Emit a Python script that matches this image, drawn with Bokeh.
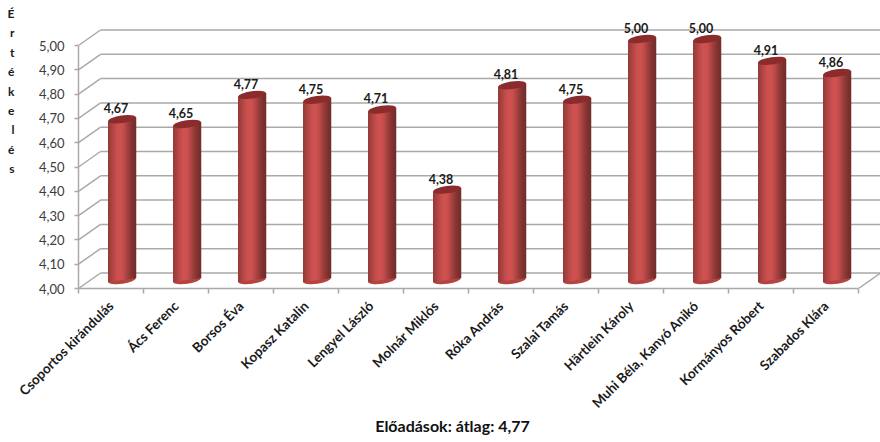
from math import pi, exp
from bokeh.plotting import figure
from bokeh.models import LinearAxis, FixedTicker, Range1d
from bokeh.core.properties import value
from bokeh.embed import file_html
from bokeh.resources import INLINE

names = ["Csoportos kirándulás", "Ács Ferenc", "Borsos Éva", "Kopasz Katalin", "Lengyel László",
         "Molnár Miklós", "Róka András", "Szalai Tamás", "Härtlein Károly", "Muhi Béla, Kanyó Anikó",
         "Kormányos Róbert", "Szabados Klára"]
scores = [4.67, 4.65, 4.77, 4.75, 4.71, 4.38, 4.81, 4.75, 5.00, 5.00, 4.91, 4.86]
y_ticks = [4.0, 4.1, 4.2, 4.3, 4.4, 4.5, 4.6, 4.7, 4.8, 4.9, 5.0]
axis_title = "Értékelés"
bottom_title = "Előadások: átlag: 4,77"

W, H = 880, 442
LEFT, BOTTOM = 78, 154
CAT_PX, VAL_PX = 65.0, 243.0
px_x, px_y = 1 / CAT_PX, 1 / VAL_PX
FONT = "Lato"
GRID = "#a9a9a9"

p = figure(width=W, height=H, output_backend="svg", toolbar_location=None,
           x_range=Range1d(0, (W - LEFT) / CAT_PX),
           y_range=Range1d(4.0, 4.0 + (H - BOTTOM) / VAL_PX),
           x_axis_location=None, y_axis_location=None,
           min_border_left=LEFT, min_border_bottom=BOTTOM, min_border_right=0, min_border_top=0)
p.outline_line_color = None
p.grid.visible = False
p.background_fill_color = "white"

# 3-D box: back wall and left wall
dx, dy = 22 * px_x, 15.5 * px_y
n = len(names)
p.segment([dx] * len(y_ticks), [t + dy for t in y_ticks], [n + 1] * len(y_ticks), [t + dy for t in y_ticks],
          line_color=GRID, line_width=1.5)
p.segment([0] * len(y_ticks), y_ticks, [dx] * len(y_ticks), [t + dy for t in y_ticks],
          line_color=GRID, line_width=1.5)
p.segment([n], [4.0], [n + dx], [4.0 + dy], line_color=GRID, line_width=1.5)

# cylinders
bar_px = 28
slope = 4.0 / 28
for i, v in enumerate(scores):
    cx = i + 0.5 + 11 * px_x
    top = v + 6.5 * px_y
    base = 4.0 + 8.5 * px_y
    tops = []
    lefts, rights, bottoms, cols = [], [], [], []
    for k in range(bar_px):
        u = (k + 0.5) / bar_px
        lit = exp(-((u - 0.42) / 0.36) ** 2)
        dark = 0.62 + 0.38 * lit if u < 0.42 else 0.52 + 0.48 * lit
        cols.append("#%02x%02x%02x" % (int(207 * dark), int(82 * dark), int(80 * dark)))
        off = k - bar_px / 2 + 0.5
        lefts.append(cx + (k - bar_px / 2) * px_x)
        rights.append(cx + (k + 1.25 - bar_px / 2) * px_x)
        tops.append(top + off * slope * px_y)
        bottoms.append(base + off * slope * px_y)
    p.ellipse([cx], [base], width=bar_px, height=7.5, angle=8 * pi / 180,
              width_units="screen", height_units="screen",
              fill_color="#b34442", line_color=None)
    p.quad(left=lefts, right=rights, top=tops, bottom=bottoms, fill_color=cols, line_color=None)
    p.ellipse([cx], [top], width=bar_px, height=7.5, angle=8 * pi / 180,
              width_units="screen", height_units="screen",
              fill_color="#8c2b2b", line_color=None)

# data labels
p.text([i + 0.5 + 5 * px_x for i in range(n)], [v + 6.5 * px_y for v in scores],
       text=[f"{v:.2f}".replace(".", ",") for v in scores],
       text_font=value(FONT), text_font_style="bold", text_font_size="12.5px", text_color="#1a1a1a",
       text_align="center", text_baseline="alphabetic", y_offset=-11)

# axes
yax = LinearAxis(ticker=FixedTicker(ticks=y_ticks), bounds=(4.0, 5.0),
                 major_label_overrides={t: f"{t:.2f}".replace(".", ",") for t in y_ticks})
yax.axis_line_color = GRID
yax.axis_line_width = 1.5
yax.major_tick_line_color = GRID
yax.major_tick_line_width = 1.5
yax.major_tick_in = 0
yax.major_tick_out = 4
yax.minor_tick_line_color = None
yax.major_label_standoff = 10
yax.major_label_text_font = FONT
yax.major_label_text_font_size = "13px"
yax.major_label_text_color = "#3c3c3c"
p.add_layout(yax, "left")

xax = LinearAxis(ticker=FixedTicker(ticks=[i + 0.5 for i in range(n)], minor_ticks=list(range(n + 1))),
                 bounds=(0, n), major_label_overrides={i + 0.5: s for i, s in enumerate(names)})
xax.axis_line_color = GRID
xax.axis_line_width = 1.5
xax.major_tick_line_color = None
xax.major_tick_in = 0
xax.major_tick_out = 0
xax.minor_tick_line_color = GRID
xax.minor_tick_line_width = 1.5
xax.minor_tick_in = 0
xax.minor_tick_out = 5
xax.major_label_orientation = pi / 4
xax.major_label_standoff = 10
xax.major_label_text_font = FONT
xax.major_label_text_font_style = "bold"
xax.major_label_text_font_size = "13.5px"
xax.major_label_text_color = "#1a1a1a"
p.add_layout(xax, "below")

# stacked axis title: an outer left axis whose tick labels are the letters
p.extra_y_ranges["letters"] = Range1d(H - BOTTOM, 0)
letter_pos = [13 + 19.4 * j for j in range(len(axis_title))]
letter_ax = LinearAxis(y_range_name="letters", ticker=FixedTicker(ticks=letter_pos),
                       major_label_overrides={t: c for t, c in zip(letter_pos, axis_title)})
letter_ax.axis_line_color = None
letter_ax.major_tick_line_color = None
letter_ax.minor_tick_line_color = None
letter_ax.major_label_standoff = 15
letter_ax.major_label_text_font = FONT
letter_ax.major_label_text_font_style = "bold"
letter_ax.major_label_text_font_size = "12px"
letter_ax.major_label_text_color = "#1a1a1a"
p.add_layout(letter_ax, "left")

# bottom caption: an outer lower axis with a single labelled tick
caption_x = (452 - LEFT) / CAT_PX
cap_ax = LinearAxis(ticker=FixedTicker(ticks=[caption_x]), major_label_overrides={caption_x: bottom_title})
cap_ax.axis_line_color = None
cap_ax.major_tick_line_color = None
cap_ax.minor_tick_line_color = None
cap_ax.major_label_standoff = -10
cap_ax.major_label_text_font = FONT
cap_ax.major_label_text_font_style = "bold"
cap_ax.major_label_text_font_size = "16px"
cap_ax.major_label_text_color = "#111111"
p.add_layout(cap_ax, "below")

open("out.html", "w").write(file_html(p, INLINE))
